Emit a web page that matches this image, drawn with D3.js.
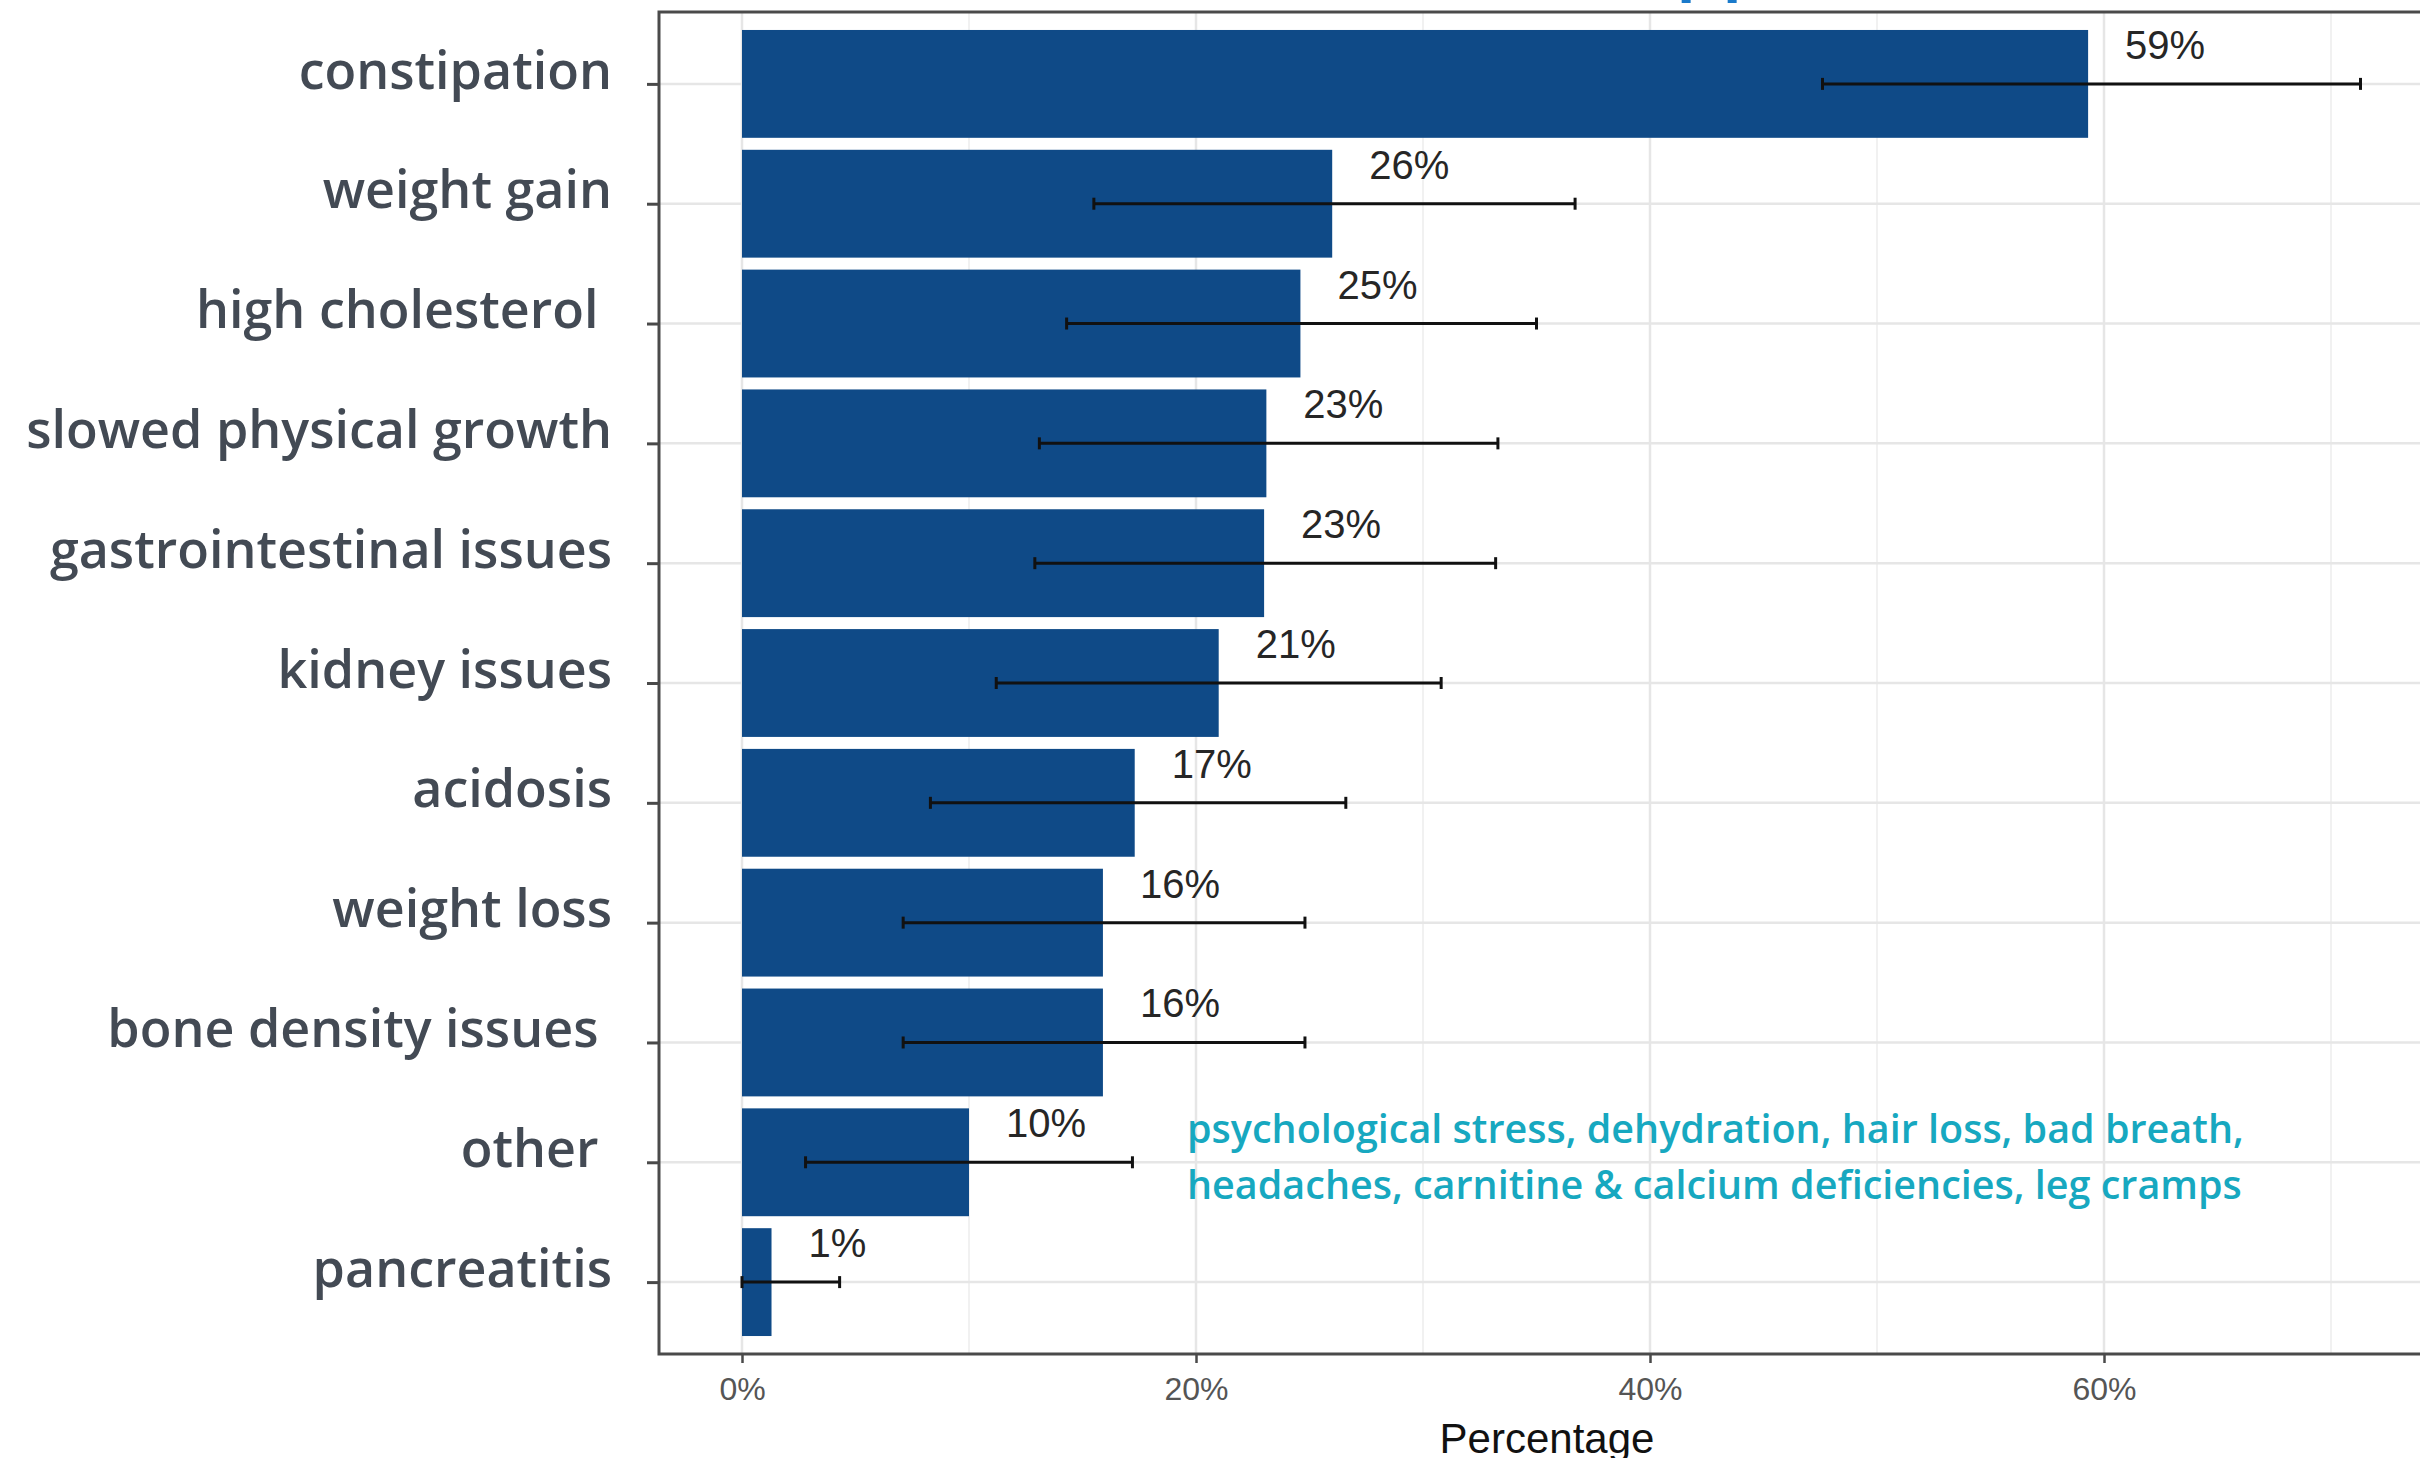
<!DOCTYPE html>
<html>
<head>
<meta charset="utf-8">
<script src="https://cdn.jsdelivr.net/npm/d3@7"></script>
<style>
  html, body { margin: 0; padding: 0; background: #ffffff; }
  svg { display: block; }
  .ylab { white-space: pre; }
</style>
</head>
<body>
<svg id="chart" width="2420" height="1458"></svg>
<script>
// Reported side effects (share of respondents) with confidence intervals
const categories = [
  "constipation", "weight gain", "high cholesterol ", "slowed physical growth",
  "gastrointestinal issues", "kidney issues", "acidosis", "weight loss",
  "bone density issues ", "other ", "pancreatitis"
];
const values    = [59.3, 26.0, 24.6, 23.1, 23.0, 21.0, 17.3, 15.9, 15.9, 10.0, 1.3];
const valueText = ["59%", "26%", "25%", "23%", "23%", "21%", "17%", "16%", "16%", "10%", "1%"];
const ciLow     = [47.6, 15.5, 14.3, 13.1, 12.9, 11.2, 8.3, 7.1, 7.1, 2.8, 0.0];
const ciHigh    = [71.3, 36.7, 35.0, 33.3, 33.2, 30.8, 26.6, 24.8, 24.8, 17.2, 4.3];
const xTicks    = [0, 20, 40, 60];
const xMinor    = [10, 30, 50, 70];
const otherNote = [
  "psychological stress, dehydration, hair loss, bad breath,",
  "headaches, carnitine & calcium deficiencies, leg cramps"
];

const svg = d3.select("#chart");

// panel box
const panel = { left: 659, top: 12, right: 2435, bottom: 1354 };

const x = d3.scaleLinear().domain([0, 60]).range([742, 2104]);
const y = d3.scalePoint().domain(categories)
  .range([panel.top, panel.bottom]).padding(0.6);
const barH = y.step() * 0.9;

const rows = categories.map((c, i) => ({
  cat: c, v: values[i], lab: valueText[i], lo: ciLow[i], hi: ciHigh[i]
}));

// title fragment reaching into the top edge
svg.append("text")
  .attr("x", 1677).attr("y", -12)
  .attr("font-family", "Open Sans, sans-serif")
  .attr("font-weight", 700)
  .attr("font-size", 60)
  .attr("letter-spacing", 8)
  .attr("fill", "#1a7acb")
  .text("pp");

const plot = svg.append("g");

// grid
plot.selectAll("line.minor").data(xMinor).join("line")
  .attr("class", "minor")
  .attr("x1", d => x(d)).attr("x2", d => x(d))
  .attr("y1", panel.top).attr("y2", panel.bottom)
  .attr("stroke", "#ececec").attr("stroke-width", 1.5);
plot.selectAll("line.major").data(xTicks).join("line")
  .attr("class", "major")
  .attr("x1", d => x(d)).attr("x2", d => x(d))
  .attr("y1", panel.top).attr("y2", panel.bottom)
  .attr("stroke", "#e6e6e6").attr("stroke-width", 2.5);
plot.selectAll("line.hgrid").data(categories).join("line")
  .attr("class", "hgrid")
  .attr("x1", panel.left).attr("x2", panel.right)
  .attr("y1", d => y(d)).attr("y2", d => y(d))
  .attr("stroke", "#e6e6e6").attr("stroke-width", 2.5);

// bars
plot.selectAll("rect.bar").data(rows).join("rect")
  .attr("class", "bar")
  .attr("x", x(0))
  .attr("y", d => y(d.cat) - barH / 2)
  .attr("width", d => x(d.v) - x(0))
  .attr("height", barH)
  .attr("fill", "#0f4a87");

// error bars
const eb = plot.selectAll("g.err").data(rows).join("g").attr("class", "err");
eb.append("line")
  .attr("x1", d => x(d.lo)).attr("x2", d => x(d.hi))
  .attr("y1", d => y(d.cat)).attr("y2", d => y(d.cat))
  .attr("stroke", "#111").attr("stroke-width", 3);
eb.append("line")
  .attr("x1", d => x(d.lo)).attr("x2", d => x(d.lo))
  .attr("y1", d => y(d.cat) - 6).attr("y2", d => y(d.cat) + 6)
  .attr("stroke", "#111").attr("stroke-width", 3);
eb.append("line")
  .attr("x1", d => x(d.hi)).attr("x2", d => x(d.hi))
  .attr("y1", d => y(d.cat) - 6).attr("y2", d => y(d.cat) + 6)
  .attr("stroke", "#111").attr("stroke-width", 3);

// value labels
plot.selectAll("text.val").data(rows).join("text")
  .attr("class", "val")
  .attr("x", d => x(d.v) + 37)
  .attr("y", d => y(d.cat) - 25)
  .attr("font-family", "Liberation Sans, Arial, sans-serif")
  .attr("font-size", 40)
  .attr("fill", "#262626")
  .text(d => d.lab);

// panel border (right side runs off the page)
svg.append("path")
  .attr("d", `M${panel.right},${panel.top}H${panel.left}V${panel.bottom}H${panel.right}`)
  .attr("fill", "none").attr("stroke", "#4a4a4a").attr("stroke-width", 3);

// x axis
const xAxis = svg.append("g")
  .attr("transform", `translate(0,${panel.bottom})`)
  .call(d3.axisBottom(x).tickValues(xTicks).tickFormat(d => d + "%")
    .tickSize(9).tickPadding(14));
xAxis.select(".domain").remove();
xAxis.selectAll(".tick line").attr("stroke", "#4a4a4a").attr("stroke-width", 2.5);
xAxis.selectAll(".tick text")
  .attr("font-family", "Liberation Sans, Arial, sans-serif")
  .attr("font-size", 32)
  .attr("fill", "#555555");

svg.append("text")
  .attr("x", (panel.left + panel.right) / 2)
  .attr("y", 1453)
  .attr("text-anchor", "middle")
  .attr("font-family", "Liberation Sans, Arial, sans-serif")
  .attr("font-size", 42)
  .attr("fill", "#111")
  .text("Percentage");

// y axis ticks and labels
const yAxis = svg.append("g")
  .attr("transform", `translate(${panel.left},0)`)
  .call(d3.axisLeft(y).tickSize(12).tickPadding(35));
yAxis.select(".domain").remove();
yAxis.selectAll(".tick line").attr("stroke", "#4a4a4a").attr("stroke-width", 3);
yAxis.selectAll(".tick text")
  .attr("class", "ylab")
  .attr("dy", "0.08em")
  .attr("font-family", "Open Sans, sans-serif")
  .attr("font-weight", 600)
  .attr("font-size", 52)
  .attr("fill", "#434a54");

// note listing what "other" covers
svg.append("g").selectAll("text").data(otherNote).join("text")
  .attr("x", 1187)
  .attr("y", (d, i) => 1143 + i * 56)
  .attr("font-family", "Open Sans, sans-serif")
  .attr("font-weight", 600)
  .attr("font-size", 39.5)
  .attr("fill", "#17a8c0")
  .text(d => d);
</script>
</body>
</html>
